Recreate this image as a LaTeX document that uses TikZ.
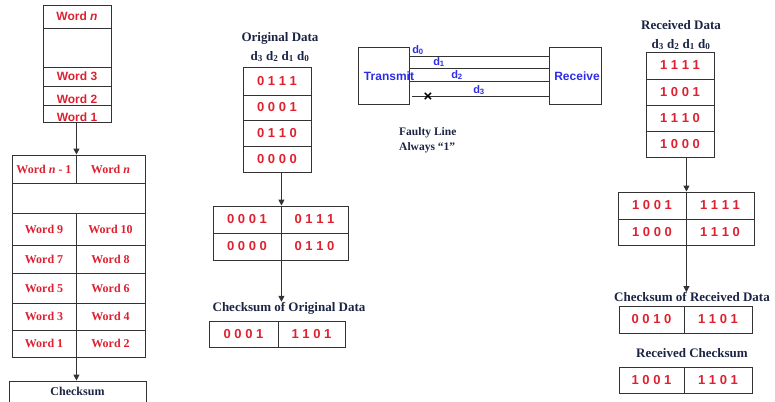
\documentclass[tikz,border=0pt]{standalone}
\usepackage{fontspec}
\setmainfont{Liberation Serif}
\setsansfont{Liberation Sans}
\usetikzlibrary{arrows.meta}

\definecolor{wordred}{RGB}{222,32,48}
\definecolor{titlenavy}{RGB}{28,36,68}
\definecolor{wireblue}{RGB}{45,45,230}

\tikzset{
  cell/.style={draw=black!80, line width=0.9pt, inner sep=0pt},
  box/.style n args={4}{minimum width={#3-#1}, minimum height={#4-#2}, at={({(#1+#3)/2},{(#2+#4)/2})}},
  sword/.style={text=wordred, font=\sffamily\bfseries\fontsize{12}{14}\selectfont},
  tword/.style={text=wordred, font=\rmfamily\bfseries\fontsize{12}{14}\selectfont},
  bits/.style={text=wordred, font=\sffamily\bfseries\fontsize{13}{15}\selectfont},
  heading/.style={text=titlenavy, font=\rmfamily\bfseries\fontsize{13}{19}\selectfont, align=center, inner sep=0pt},
  wire/.style={draw=black!80, line width=1pt},
  wlabel/.style={text=wireblue, font=\sffamily\bfseries\fontsize{10}{12}\selectfont, inner sep=0pt},
  arr/.style={draw=black!80, line width=0.9pt, -{Triangle[length=6pt,width=6pt]}}
}

\begin{document}
\begin{tikzpicture}[x=1pt,y=-1pt]
  \useasboundingbox (0,0) rectangle (775,401);

  % word stack of the message
  \node[cell,sword,box={43}{5}{111}{28}] (s1) {Word \textit{n}};
  \node[cell,box={43}{28}{111}{67}] (s2) {};
  \node[cell,sword,box={43}{67}{111}{86}] (s3) {Word 3};
  \node[cell,box={43}{86}{111}{105},label={[sword,inner sep=0pt,yshift=-3.5pt]center:Word 2}] (s4) {};
  \node[cell,box={43}{105}{111}{122},label={[sword,inner sep=0pt,yshift=-3.5pt]center:Word 1}] (s5) {};

  % words in pairs
  \node[cell,tword,box={12}{155}{76}{183}] (wa) {Word \textit{n} - 1};
  \node[cell,tword,box={76}{155}{145}{183}] (wb) {Word \textit{n}};
  \node[cell,box={12}{183}{145}{213}] (wc) {};
  \node[cell,tword,box={12}{213}{76}{245}] (w9) {Word 9};
  \node[cell,tword,box={76}{213}{145}{245}] (w10) {Word 10};
  \node[cell,tword,box={12}{245}{76}{273}] (w7) {Word 7};
  \node[cell,tword,box={76}{245}{145}{273}] (w8) {Word 8};
  \node[cell,tword,box={12}{273}{76}{303}] (w5) {Word 5};
  \node[cell,tword,box={76}{273}{145}{303}] (w6) {Word 6};
  \node[cell,tword,box={12}{303}{76}{330}] (w3) {Word 3};
  \node[cell,tword,box={76}{303}{145}{330}] (w4) {Word 4};
  \node[cell,tword,box={12}{330}{76}{357}] (w1) {Word 1};
  \node[cell,tword,box={76}{330}{145}{357}] (w2) {Word 2};
  \node[cell,box={9}{381}{146}{402}] (ck) {};
  \node[heading,font=\rmfamily\bfseries\fontsize{12}{14}\selectfont] (cktxt) at (77.5,391) {Checksum};

  \draw[arr] (wa.north east |- s5.south) -- (wa.north east);
  \draw[arr] (w1.south east) -- (w1.south east |- ck.north);

  % original data
  \node[heading] (otitle) at (280,47) {Original Data\\d\textsubscript{3} d\textsubscript{2} d\textsubscript{1} d\textsubscript{0}};
  \node[cell,bits,box={243}{67}{311}{95}] (o1) {0 1 1 1};
  \node[cell,bits,box={243}{95}{311}{120}] (o2) {0 0 0 1};
  \node[cell,bits,box={243}{120}{311}{146}] (o3) {0 1 1 0};
  \node[cell,bits,box={243}{146}{311}{172}] (o4) {0 0 0 0};

  \node[cell,bits,box={213}{206}{281}{233}] (p1) {0 0 0 1};
  \node[cell,bits,box={281}{206}{348}{233}] (p2) {0 1 1 1};
  \node[cell,bits,box={213}{233}{281}{260}] (p3) {0 0 0 0};
  \node[cell,bits,box={281}{233}{348}{260}] (p4) {0 1 1 0};

  \node[heading] (ctitle) at (289,308) {Checksum of Original Data};
  \node[cell,bits,box={209}{321}{278}{347}] (c1) {0 0 0 1};
  \node[cell,bits,box={278}{321}{345}{347}] (c2) {1 1 0 1};

  \draw[arr] (p1.north east |- o4.south) -- (p1.north east);
  \draw[arr] (p3.south east) -- (p3.south east |- ctitle.north);

  % transmission lines
  \node[cell,box={358}{47}{409}{104}] (tx) {};
  \node[cell,box={549}{47}{601}{104}] (rx) {};
  \node[wlabel,font=\sffamily\bfseries\fontsize{12}{14}\selectfont] (txtxt) at (389,76) {Transmit};
  \node[wlabel,font=\sffamily\bfseries\fontsize{12}{14}\selectfont] (rxtxt) at (577,76) {Receive};
  \draw[wire] (tx.east |- 0,57) -- (rx.west |- 0,57);
  \draw[wire] (tx.east |- 0,69) -- (rx.west |- 0,69);
  \draw[wire] (tx.east |- 0,82) -- (rx.west |- 0,82);
  \coordinate (fstart) at (412,97);
  \draw[wire] (fstart) -- (rx.west |- fstart);
  \node[wlabel,font=\sffamily\bfseries\fontsize{11}{12}\selectfont] (d0) at (418,50) {d\textsubscript{0}};
  \node[wlabel,font=\sffamily\bfseries\fontsize{11}{12}\selectfont] (d1) at (439,62) {d\textsubscript{1}};
  \node[wlabel,font=\sffamily\bfseries\fontsize{11}{12}\selectfont] (d2) at (457,75) {d\textsubscript{2}};
  \node[wlabel,font=\sffamily\bfseries\fontsize{11}{12}\selectfont] (d3) at (479,90) {d\textsubscript{3}};
  \node[inner sep=0pt,font=\sffamily\bfseries\fontsize{15}{16}\selectfont] (fx) at (428,97.5) {×};
  \node[heading,align=left,anchor=west,font=\rmfamily\bfseries\fontsize{11.5}{15}\selectfont] (fault) at (399,140.5) {Faulty Line\\Always “1”};

  % received data
  \node[heading] (rtitle) at (681,35) {Received Data\\d\textsubscript{3} d\textsubscript{2} d\textsubscript{1} d\textsubscript{0}};
  \node[cell,bits,box={646}{52}{714}{79}] (r1) {1 1 1 1};
  \node[cell,bits,box={646}{79}{714}{105}] (r2) {1 0 0 1};
  \node[cell,bits,box={646}{105}{714}{131}] (r3) {1 1 1 0};
  \node[cell,bits,box={646}{131}{714}{157}] (r4) {1 0 0 0};

  \node[cell,bits,box={618}{192}{686}{219}] (q1) {1 0 0 1};
  \node[cell,bits,box={686}{192}{754}{219}] (q2) {1 1 1 1};
  \node[cell,bits,box={618}{219}{686}{245}] (q3) {1 0 0 0};
  \node[cell,bits,box={686}{219}{754}{245}] (q4) {1 1 1 0};

  \node[heading] (rctitle) at (692,297) {Checksum of Received Data};
  \node[cell,bits,box={619}{306}{684}{333}] (k1) {0 0 1 0};
  \node[cell,bits,box={684}{306}{752}{333}] (k2) {1 1 0 1};

  \node[heading] (rktitle) at (692,353) {Received Checksum};
  \node[cell,bits,box={619}{367}{684}{393}] (m1) {1 0 0 1};
  \node[cell,bits,box={684}{367}{752}{393}] (m2) {1 1 0 1};

  \draw[arr] (q1.north east |- r4.south) -- (q1.north east);
  \draw[arr] (q3.south east) -- (q3.south east |- rctitle.north);
\end{tikzpicture}
\end{document}
